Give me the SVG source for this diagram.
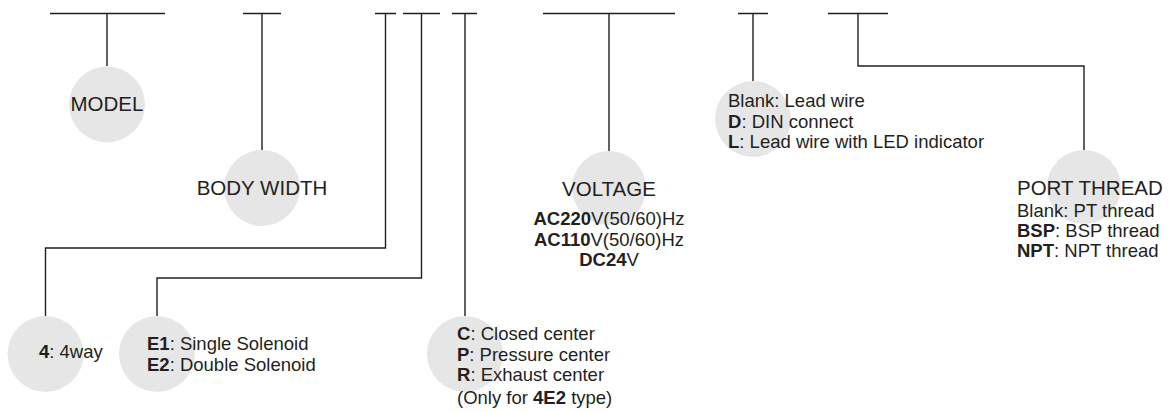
<svg xmlns="http://www.w3.org/2000/svg" width="1170" height="412" viewBox="0 0 1170 412">
<style>
.c{fill:#e6e6e6;stroke:none}
.ln{fill:none;stroke:#231f20;stroke-width:1.4}
text{font-family:"Liberation Sans",Arial,sans-serif;fill:#231f20}
.h{font-size:20.5px}
.t{font-size:18.5px}
.b{font-weight:bold}
</style>
<rect width="1170" height="412" fill="#fff"/>
<g id="connectors">
<path class="ln" d="M50,13.5H165M107,13.5V66"/>
<path class="ln" d="M243,13.5H281M262,13.5V150"/>
<path class="ln" d="M375,13.5H396M385.5,13.5V248H45.5V316"/>
<path class="ln" d="M403,13.5H440M421.5,13.5V278H157V316"/>
<path class="ln" d="M452,13.5H477M465,13.5V316"/>
<path class="ln" d="M543,13.5H675M609,13.5V151"/>
<path class="ln" d="M738,13.5H768M753,13.5V81"/>
<path class="ln" d="M828,13.5H888M858,13.5V66H1084V150"/>
</g>
<g id="model">
<circle class="c" cx="107" cy="104.5" r="38"/>
<text class="h" x="107" y="111" text-anchor="middle">MODEL</text>
</g>
<g id="body-width">
<circle class="c" cx="262" cy="188" r="38"/>
<text class="h" x="262" y="195" text-anchor="middle">BODY WIDTH</text>
</g>
<g id="way">
<circle class="c" cx="45.5" cy="354" r="38"/>
<text class="t" x="39" y="358"><tspan class="b">4</tspan>: 4way</text>
</g>
<g id="solenoid">
<circle class="c" cx="157" cy="354" r="38"/>
<text class="t" x="147" y="350"><tspan class="b">E1</tspan>: Single Solenoid</text>
<text class="t" x="147" y="370.5"><tspan class="b">E2</tspan>: Double Solenoid</text>
</g>
<g id="center">
<circle class="c" cx="465" cy="354" r="38"/>
<text class="t" x="457" y="340"><tspan class="b">C</tspan>: Closed center</text>
<text class="t" x="457" y="360.5"><tspan class="b">P</tspan>: Pressure center</text>
<text class="t" x="457" y="381"><tspan class="b">R</tspan>: Exhaust center</text>
<text class="t" x="457" y="404">(Only for <tspan class="b">4E2</tspan> type)</text>
</g>
<g id="voltage">
<circle class="c" cx="609" cy="188" r="37"/>
<text class="h" x="609" y="196" text-anchor="middle">VOLTAGE</text>
<text class="t" x="609" y="225" text-anchor="middle"><tspan class="b">AC220</tspan>V(50/60)Hz</text>
<text class="t" x="609" y="245.5" text-anchor="middle"><tspan class="b">AC110</tspan>V(50/60)Hz</text>
<text class="t" x="609" y="265.5" text-anchor="middle"><tspan class="b">DC24</tspan>V</text>
</g>
<g id="wiring">
<circle class="c" cx="753" cy="119" r="38"/>
<text class="t" x="728" y="107">Blank: Lead wire</text>
<text class="t" x="728" y="127.5"><tspan class="b">D</tspan>: DIN connect</text>
<text class="t" x="728" y="148"><tspan class="b">L</tspan>: Lead wire with LED indicator</text>
</g>
<g id="port-thread">
<circle class="c" cx="1084" cy="187" r="37"/>
<text class="h" x="1017" y="195">PORT THREAD</text>
<text class="t" x="1017" y="216.5">Blank: PT thread</text>
<text class="t" x="1017" y="237"><tspan class="b">BSP</tspan>: BSP thread</text>
<text class="t" x="1017" y="257"><tspan class="b">NPT</tspan>: NPT thread</text>
</g>
</svg>
